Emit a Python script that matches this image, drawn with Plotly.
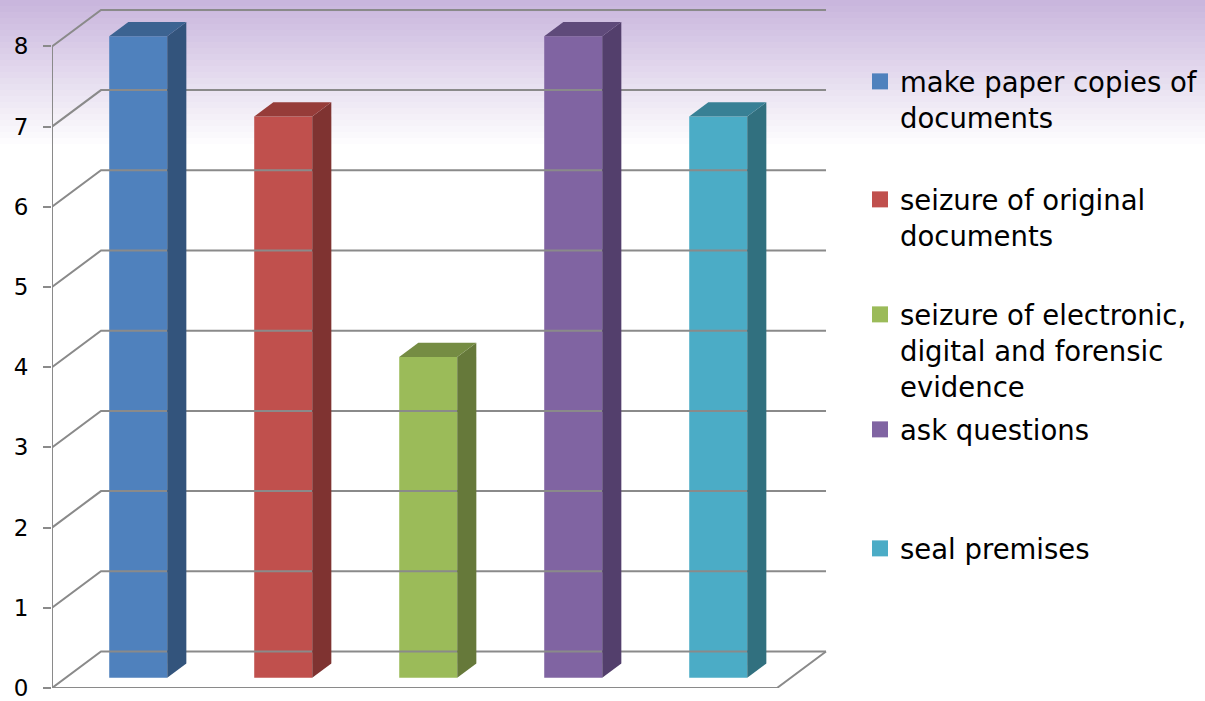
import plotly.graph_objects as go

# Chart data
categories = [
    "make paper copies of<br>documents",
    "seizure of original<br>documents",
    "seizure of electronic,<br>digital and forensic<br>evidence",
    "ask questions",
    "seal premises",
]
values = [8, 7, 4, 8, 7]
tick_values = [0, 1, 2, 3, 4, 5, 6, 7, 8]

front_colors = ["#4f81bd", "#c0504d", "#9bbb59", "#8064a2", "#4bacc6"]
side_colors = ["#33547c", "#7f3331", "#66793a", "#533f6c", "#31707f"]
top_colors = ["#3c6391", "#963c39", "#758c43", "#5f4a7a", "#388095"]

# Oblique projection: depth 0 = front plane, depth 1 = back wall
DX = 0.338   # horizontal shift per unit depth (category units)
DY = 0.455   # vertical shift per unit depth (value units)
D0, D1 = 0.28, 0.67   # bar front / back depth
BAR_W = 0.40
N = len(values)
GRID = "#8a8a8a"
FONT = "DejaVu Sans"

fig = go.Figure()

# Back wall / left wall gridlines
for v in tick_values:
    fig.add_trace(go.Scatter(
        x=[0, DX, N + DX], y=[v, v + DY, v + DY], mode="lines",
        line=dict(color=GRID, width=2), hoverinfo="skip", showlegend=False))

# Front vertical axis and floor edges
fig.add_trace(go.Scatter(
    x=[0, 0], y=[0, max(tick_values)], mode="lines",
    line=dict(color=GRID, width=2), hoverinfo="skip", showlegend=False))
fig.add_trace(go.Scatter(
    x=[0, N, N + DX], y=[0, 0, DY], mode="lines",
    line=dict(color=GRID, width=2), hoverinfo="skip", showlegend=False))

legend_ids = ["legend", "legend2", "legend3", "legend4", "legend5"]
t = D1 - D0
base = D0 * DY
for i, (name, v) in enumerate(zip(categories, values)):
    c = i + 0.5 + D0 * DX
    xl, xr = c - BAR_W / 2, c + BAR_W / 2
    top = v + base
    # right side face
    fig.add_trace(go.Scatter(
        x=[xr, xr + t * DX, xr + t * DX, xr, xr],
        y=[base, base + t * DY, top + t * DY, top, base],
        mode="lines", fill="toself", fillcolor=side_colors[i],
        line=dict(width=0, color=side_colors[i]),
        hoverinfo="skip", showlegend=False))
    # top face
    fig.add_trace(go.Scatter(
        x=[xl, xr, xr + t * DX, xl + t * DX, xl],
        y=[top, top, top + t * DY, top + t * DY, top],
        mode="lines", fill="toself", fillcolor=top_colors[i],
        line=dict(width=0, color=top_colors[i]),
        hoverinfo="skip", showlegend=False))
    # front face
    fig.add_trace(go.Bar(
        x=[c], y=[v], base=[base], width=BAR_W, name=name,
        marker=dict(color=front_colors[i], line=dict(width=0)),
        showlegend=False, hoverinfo="skip"))
    # legend key (square swatch)
    fig.add_trace(go.Scatter(
        x=[None], y=[None], mode="markers", name=name,
        marker=dict(symbol="square", size=16, color=front_colors[i]),
        legend=legend_ids[i], hoverinfo="skip"))

# Plot area geometry (pixels)
W, H = 1205, 701
L, R, T, B = 52, 373, 5, 13
pw, ph = W - L - R, H - T - B
px_per_cat = 145.0
px_per_val = 80.2

def paper_x(px):
    return (px - L) / pw

def paper_y(py):
    return (H - B - py) / ph

# Soft lavender band across the top of the canvas
shapes = []
top_rgb = (201, 182, 221)
n_bands = 25
band_h = 6
for k in range(n_bands):
    f = k / (n_bands - 1)
    r, g, b = (int(round(c0 + (255 - c0) * f)) for c0 in top_rgb)
    shapes.append(dict(
        type="rect", xref="paper", yref="paper",
        x0=paper_x(0), x1=paper_x(W),
        y0=paper_y((k + 1) * band_h), y1=paper_y(k * band_h),
        fillcolor=f"rgb({r},{g},{b})", line=dict(width=0), layer="below"))

legend_baselines = [90, 208, 323, 438, 557]
legend_cfg = {}
for lid, bl in zip(legend_ids, legend_baselines):
    legend_cfg[lid] = dict(
        x=paper_x(860), xanchor="left",
        y=paper_y(bl - 33), yanchor="top",
        bgcolor="rgba(0,0,0,0)", valign="top",
        itemsizing="trace", itemwidth=30,
        font=dict(family=FONT, size=27.5, color="#000000"),
        itemclick=False, itemdoubleclick=False)

fig.update_layout(
    width=W, height=H,
    margin=dict(l=L, r=R, t=T, b=B, autoexpand=False),
    paper_bgcolor="white", plot_bgcolor="rgba(0,0,0,0)",
    barmode="overlay",
    shapes=shapes,
    showlegend=True,
    xaxis=dict(range=[0, pw / px_per_cat], visible=False, fixedrange=True),
    yaxis=dict(
        range=[0, ph / px_per_val], tickvals=tick_values,
        ticks="outside", ticklen=8, tickwidth=2, tickcolor=GRID,
        ticklabelstandoff=10, ticklabeloverflow="allow",
        showgrid=False, zeroline=False, showline=False, fixedrange=True,
        tickfont=dict(family=FONT, size=23, color="#000000")),
    **legend_cfg,
)

fig.write_html("out.html")
